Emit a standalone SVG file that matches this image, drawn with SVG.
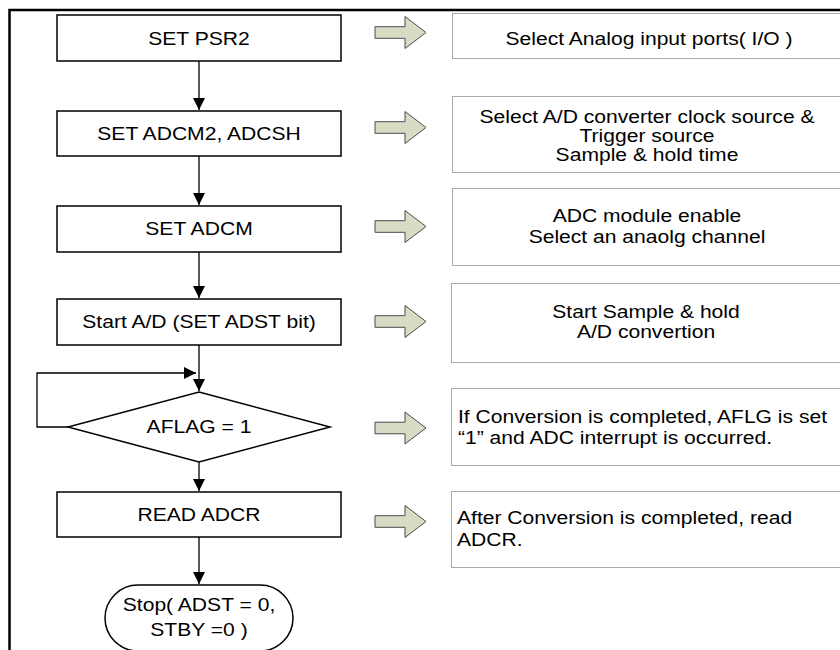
<svg xmlns="http://www.w3.org/2000/svg" width="840" height="650" viewBox="0 0 840 650">
<style>
text{font-family:"Liberation Sans",Arial,sans-serif;font-size:18.5px;fill:#000}
.c{text-anchor:middle}
.s{text-anchor:start}
.box{fill:#fff;stroke:#000;stroke-width:1.5}
.note{fill:#fff;stroke:#555;stroke-width:1;stroke-dasharray:1 1}
.ha{fill:#d7dcc5;stroke:#4a4a4a;stroke-width:1}
.con{fill:none;stroke:#000;stroke-width:1.3}
.frame{fill:none;stroke:#000;stroke-width:2.5}
</style>
<defs>
<marker id="ah" viewBox="0 0 12 12" refX="12" refY="6" markerWidth="12" markerHeight="12" markerUnits="userSpaceOnUse" orient="auto">
<path d="M0,0 L12,6 L0,12 Z" fill="#000"/>
</marker>
<polygon id="harrow" class="ha" points="0,-5.8 30,-5.8 30,-16 51,0 30,16 30,5.8 0,5.8"/>
</defs>
<rect width="840" height="650" fill="#fff"/>
<path class="frame" d="M9.5,652 L9.5,10 L842,10"/>

<g id="connectors">
<line class="con" x1="199" y1="61" x2="199" y2="110" marker-end="url(#ah)"/>
<line class="con" x1="199" y1="156" x2="199" y2="205" marker-end="url(#ah)"/>
<line class="con" x1="199" y1="252" x2="199" y2="298" marker-end="url(#ah)"/>
<line class="con" x1="199" y1="345" x2="199" y2="391" marker-end="url(#ah)"/>
<polyline class="con" points="68,427 37,427 37,373 196,373" marker-end="url(#ah)"/>
<line class="con" x1="199" y1="462" x2="199" y2="491" marker-end="url(#ah)"/>
<line class="con" x1="199" y1="537" x2="199" y2="584" marker-end="url(#ah)"/>
</g>

<g id="n1"><rect class="box" x="57" y="15" width="284" height="46"/><text class="c" transform="translate(199,45) scale(1.14,1)">SET PSR2</text></g>
<g id="n2"><rect class="box" x="57" y="111" width="284" height="45"/><text class="c" transform="translate(199,139.5) scale(1.14,1)">SET ADCM2, ADCSH</text></g>
<g id="n3"><rect class="box" x="57" y="206" width="284" height="46"/><text class="c" transform="translate(199,235) scale(1.14,1)">SET ADCM</text></g>
<g id="n4"><rect class="box" x="57" y="299" width="284" height="46"/><text class="c" transform="translate(199,328) scale(1.14,1)">Start A/D (SET ADST bit)</text></g>
<g id="n5"><polygon class="box" points="199,392 330,427 199,462 68,427"/><text class="c" transform="translate(199,433) scale(1.14,1)">AFLAG = 1</text></g>
<g id="n6"><rect class="box" x="57" y="492" width="284" height="45"/><text class="c" transform="translate(199,521) scale(1.14,1)">READ ADCR</text></g>
<g id="n7"><rect class="box" x="105" y="585" width="188" height="66" rx="33" ry="33"/><text class="c" transform="translate(199,611) scale(1.14,1)">Stop( ADST = 0,</text><text class="c" transform="translate(199,636) scale(1.14,1)">STBY =0 )</text></g>

<g id="a1"><use href="#harrow" x="375" y="32.5"/></g>
<g id="a2"><use href="#harrow" x="375" y="127.5"/></g>
<g id="a3"><use href="#harrow" x="375" y="226.5"/></g>
<g id="a4"><use href="#harrow" x="375" y="321.5"/></g>
<g id="a5"><use href="#harrow" x="375" y="428"/></g>
<g id="a6"><use href="#harrow" x="375" y="521.5"/></g>

<g id="t1"><rect class="note" x="452.5" y="13.5" width="400" height="45"/><text class="c" transform="translate(649,45) scale(1.14,1)">Select Analog input ports( I/O )</text></g>
<g id="t2"><rect class="note" x="452.5" y="96.5" width="400" height="76"/><text class="c" transform="translate(647,123) scale(1.14,1)">Select A/D converter clock source &amp;</text><text class="c" transform="translate(647,142) scale(1.14,1)">Trigger source</text><text class="c" transform="translate(647,161) scale(1.14,1)">Sample &amp; hold time</text></g>
<g id="t3"><rect class="note" x="452.5" y="188.5" width="400" height="77"/><text class="c" transform="translate(647,222) scale(1.14,1)">ADC module enable</text><text class="c" transform="translate(647,243) scale(1.14,1)">Select an anaolg channel</text></g>
<g id="t4"><rect class="note" x="451.5" y="283.5" width="400" height="79"/><text class="c" transform="translate(646,318) scale(1.14,1)">Start Sample &amp; hold</text><text class="c" transform="translate(646,338) scale(1.14,1)">A/D convertion</text></g>
<g id="t5"><rect class="note" x="451.5" y="388.5" width="400" height="77"/><text class="s" transform="translate(458,423) scale(1.14,1)">If Conversion is completed, AFLG is set</text><text class="s" transform="translate(458,444) scale(1.14,1)">“1” and ADC interrupt is occurred.</text></g>
<g id="t6"><rect class="note" x="451.5" y="491.5" width="400" height="76"/><text class="s" transform="translate(457,524) scale(1.14,1)">After Conversion is completed, read</text><text class="s" transform="translate(457,546) scale(1.14,1)">ADCR.</text></g>
</svg>
